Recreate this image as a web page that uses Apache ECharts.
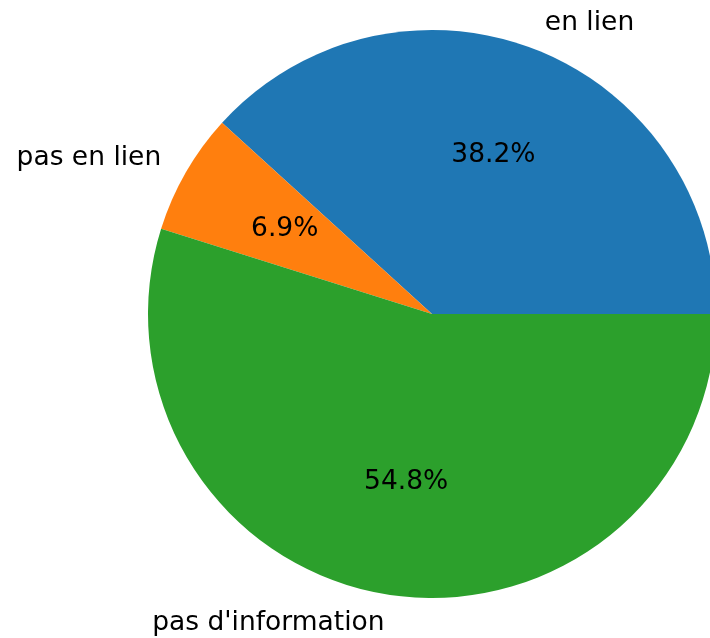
<!DOCTYPE html>
<html><head><meta charset="utf-8">
<script src="https://cdn.jsdelivr.net/npm/echarts@6/dist/echarts.min.js"></script>
<style>html,body{margin:0;padding:0;background:#fff}#c{width:710px;height:638px}</style>
</head><body><div id="c"></div>
<script>
const categories = ["en lien", "pas en lien", "pas d'information"];
const values = [38.2, 6.9, 54.8];
const colors = ["#1f77b4", "#ff7f0e", "#2ca02c"];

const R = 284;
const center = [432, 314];
const font = 'DejaVu Sans';
const fs = 26.5;

const data = categories.map((c, i) => ({ name: c, value: values[i], itemStyle: { color: colors[i] } }));
const ghost = categories.map((c, i) => ({ name: c, value: values[i], itemStyle: { color: 'rgba(0,0,0,0)' } }));

const chart = echarts.init(document.getElementById('c'), null, { renderer: 'canvas' });
chart.setOption({
  animation: false,
  series: [
    {
      type: 'pie', center: center, radius: [0, R], startAngle: 0, clockwise: false,
      avoidLabelOverlap: false, silent: true,
      data: data,
      label: { show: true, position: 'outside', formatter: '{b}', fontFamily: font, fontSize: fs, color: '#000' },
      labelLine: { show: false, length: R * 0.1, length2: -5 },
      emphasis: { disabled: true }
    },
    {
      type: 'pie', center: center, radius: [0, R * 1.2 - 7], startAngle: 0, clockwise: false,
      avoidLabelOverlap: false, silent: true,
      data: ghost,
      label: { show: true, position: 'inside', formatter: p => values[p.dataIndex].toFixed(1) + '%', fontFamily: font, fontSize: fs, color: '#000', padding: [2, 0, 0, 0] },
      labelLine: { show: false },
      emphasis: { disabled: true }
    }
  ]
});
</script></body></html>
